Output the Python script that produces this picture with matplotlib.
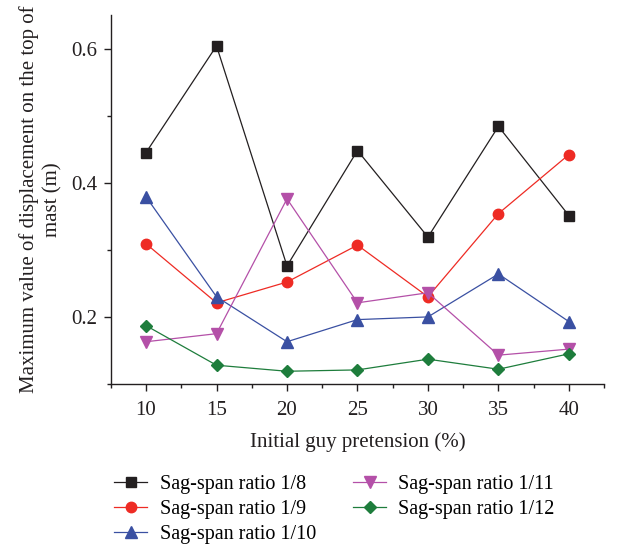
import matplotlib
matplotlib.use("Agg")
import matplotlib.pyplot as plt
from matplotlib.ticker import MultipleLocator

plt.rcParams['font.family'] = ['Liberation Serif', 'DejaVu Serif']

x = [10, 15, 20, 25, 30, 35, 40]
s8 = [0.445, 0.604, 0.276, 0.448, 0.319, 0.484, 0.351]
s9 = [0.309, 0.221, 0.252, 0.307, 0.230, 0.354, 0.442]
s10 = [0.379, 0.230, 0.163, 0.196, 0.200, 0.264, 0.193]
s11 = [0.163, 0.175, 0.376, 0.221, 0.236, 0.143, 0.152]
s12 = [0.187, 0.128, 0.119, 0.121, 0.137, 0.122, 0.145]
labels = ["Sag-span ratio 1/8", "Sag-span ratio 1/9", "Sag-span ratio 1/10",
          "Sag-span ratio 1/11", "Sag-span ratio 1/12"]

fig = plt.figure(figsize=(6.19, 5.46), dpi=100)
ax = fig.add_axes([0.179, 0.2967, 0.797, 0.6758])

styles = [
    (s8, '#231f20', 's', 6.5),
    (s9, '#ee2b24', 'o', 7.5),
    (s10, '#3a50a2', '^', 8),
    (s11, '#b450a8', 'v', 8),
    (s12, '#1e7d3c', 'D', 6.5),
]
handles = []
for (vals, c, m, ms), lab in zip(styles, labels):
    h, = ax.plot(x, vals, color=c, marker=m, markersize=ms, lw=0.9, label=lab)
    handles.append(h)

ax.set_xlim(7.5, 42.5)
ax.set_ylim(0.1, 0.65)
ax.xaxis.set_major_locator(MultipleLocator(5))
ax.xaxis.set_minor_locator(MultipleLocator(2.5))
ax.yaxis.set_minor_locator(MultipleLocator(0.1))
ax.set_yticks([0.2, 0.4, 0.6])
ax.set_yticklabels(['0.2', '0.4', '0.6'])
ax.spines['top'].set_visible(False)
ax.spines['right'].set_visible(False)
for sp in ['left', 'bottom']:
    ax.spines[sp].set_linewidth(1.0)
    ax.spines[sp].set_color('#231f20')
ax.tick_params(which='major', direction='out', length=5, width=1, labelsize=15, colors='#231f20', pad=5)
ax.tick_params(axis='x', which='major', pad=7)
ax.tick_params(which='minor', direction='out', length=3, width=1, colors='#231f20')

ax.set_xlabel('Initial guy pretension (%)', fontsize=15, color='#231f20', labelpad=9)
ax.set_ylabel('Maximum value of displacement on the top of\nmast (m)', fontsize=15,
              color='#231f20', labelpad=6, linespacing=1.3)

fig.legend(handles=handles, loc='upper left', bbox_to_anchor=(0.165, 0.152),
           ncol=2, frameon=False, fontsize=14.5, handlelength=1.65, columnspacing=1.85,
           labelspacing=0.3, handletextpad=0.6, borderpad=0.1)

fig.savefig('out.png', dpi=100)
